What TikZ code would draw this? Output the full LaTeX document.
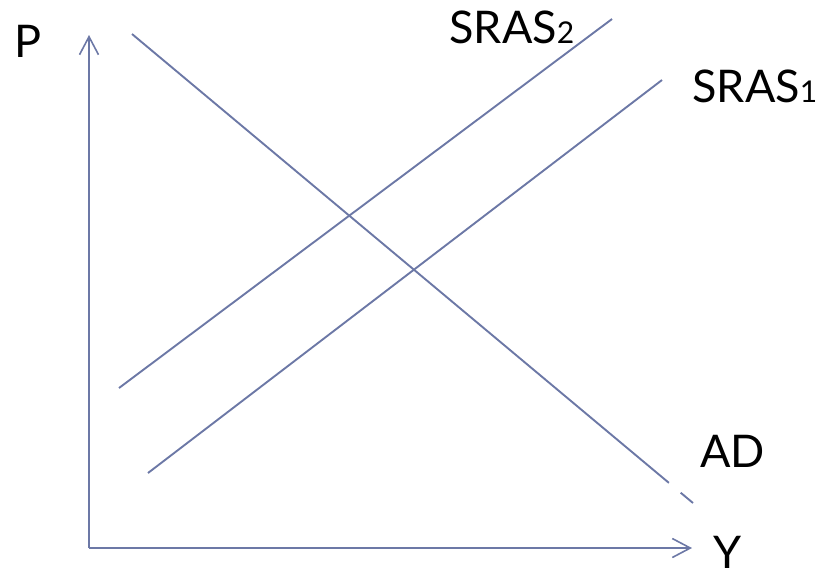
\documentclass[tikz,border=0pt]{standalone}
\usepackage{fontspec}
\setmainfont{Lato}
\usetikzlibrary{arrows.meta,calc}
\definecolor{curveblue}{RGB}{108,120,166}
\begin{document}
\begin{tikzpicture}[
    x=0.5pt,y=-0.5pt,
    axis/.style={draw=curveblue,line width=1pt,-{Straight Barb[length=9pt,width=9.5pt,line width=0.8pt]}},
    curve/.style={draw=curveblue,line width=0.95pt},
    lbl/.style={inner sep=0pt,anchor=base west,font=\fontsize{22.5}{26}\selectfont},
]
    \useasboundingbox (0,0) rectangle (818,575);
    % axes
    \coordinate (O) at (89,548);
    \coordinate (Ptop) at (89,35);
    \coordinate (Yend) at (692,548);
    \draw[axis] (O) -- (Ptop);
    \draw[axis] (O) -- (Yend);
    \node[lbl] (P) at (14,57) {P};
    \node[lbl] (Y) at (713,568) {Y};
    % supply curves
    \coordinate (srasTwoLo) at (119,388);
    \coordinate (srasTwoHi) at (612,19);
    \coordinate (srasOneLo) at (148,473);
    \coordinate (srasOneHi) at (662,80);
    \draw[curve] (srasTwoLo) -- (srasTwoHi);
    \draw[curve] (srasOneLo) -- (srasOneHi);
    \node[lbl] (srasTwo) at (449,43) {SRAS{\fontsize{15}{18}\selectfont 2}};
    \node[lbl] (srasOne) at (692,102) {SRAS{\fontsize{15}{18}\selectfont 1}};
    % demand curve, with the small break near its end
    \coordinate (adHi) at (132,34);
    \coordinate (adLo) at (693,503);
    \draw[curve] (adHi) -- ($(adHi)!0.957!(adLo)$);
    \draw[curve] ($(adHi)!0.978!(adLo)$) -- (adLo);
    \node[lbl] (AD) at (700,467) {AD};
\end{tikzpicture}
\end{document}
